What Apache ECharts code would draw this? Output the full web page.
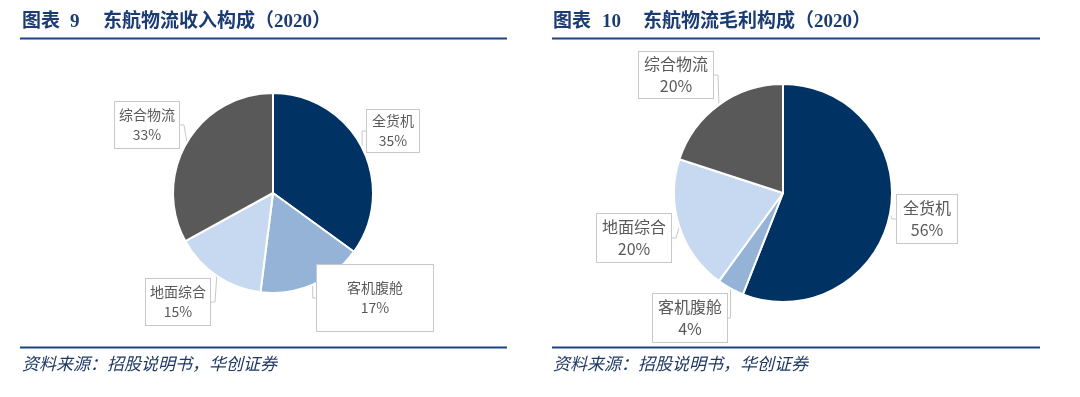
<!DOCTYPE html>
<html><head><meta charset="utf-8">
<script src="https://cdn.jsdelivr.net/npm/echarts@6/dist/echarts.min.js"></script>
<style>html,body{margin:0;padding:0;background:#fff}#c{width:1080px;height:397px}</style>
</head><body><div id="c"></div>
<script>
// ---- data ----
const categories = ['全货机', '客机腹舱', '地面综合', '综合物流'];
const revenueShare = [35, 17, 15, 33];      // 图表9 收入构成 (%)
const grossProfitShare = [56, 4, 20, 20];   // 图表10 毛利构成 (%)
const titles = [['图表', '9', '东航物流收入构成（2020）'], ['图表', '10', '东航物流毛利构成（2020）']];
const sourceText = '资料来源：招股说明书，华创证券';

// ---- styling / layout ----
const colors = ['#003263', '#95B3D7', '#C6D9F1', '#595959'];
const labelLayouts = [
  [[393, 131], [375, 298], [178, 302], [147, 125]],
  [[927, 219], [690, 318], [634, 238], [676, 75]]
];
const labelPads = [
  [[1, 5], [13, 30], [3, 4], [3, 4]],
  [[2, 6], [2, 5], [2, 5], [1, 5]]
];
const fontSizes = [14, 16];

function buildData(vals, si) {
  return categories.map((n, i) => ({
    name: n, value: vals[i],
    itemStyle: { color: colors[i] },
    label: { padding: labelPads[si][i] }
  }));
}

function pieSeries(vals, si, center, radius) {
  return {
    type: 'pie', center: center, radius: radius, startAngle: 90, clockwise: true,
    silent: true, animation: false,
    itemStyle: { borderColor: '#fff', borderWidth: 2 },
    label: {
      show: true, formatter: '{b}\n{c}%', color: '#595959',
      fontSize: fontSizes[si], lineHeight: fontSizes[si] + 6,
      fontFamily: "'Noto Sans CJK SC', 'Liberation Sans', sans-serif",
      backgroundColor: '#fff', borderColor: '#c8c8c8', borderWidth: 1, align: 'center'
    },
    labelLine: { show: true, length: 6, length2: 4, lineStyle: { color: '#c8c8c8', width: 1 } },
    labelLayout: function (p) {
      const pos = labelLayouts[si][p.dataIndex];
      return { x: pos[0], y: pos[1], align: 'center', verticalAlign: 'middle' };
    },
    data: buildData(vals, si)
  };
}

const titleFont = "bold 19px 'Liberation Serif', 'Noto Sans CJK SC', serif";
const graphics = [];
const panels = [
  { x0: 20, x1: 507, tx: 22, tn: 70, tx2: 103 },
  { x0: 552, x1: 1040, tx: 553, tn: 602, tx2: 643 }
];
panels.forEach((p, i) => {
  graphics.push({ type: 'text', left: p.tx, top: 13, style: { text: titles[i][0], font: titleFont, fill: '#1B3C73' } });
  graphics.push({ type: 'text', left: p.tn, top: 13, style: { text: titles[i][1], font: titleFont, fill: '#1B3C73' } });
  graphics.push({ type: 'text', left: p.tx2, top: 13, style: { text: titles[i][2], font: titleFont, fill: '#1B3C73' } });
  graphics.push({ type: 'rect', shape: { x: p.x0, y: 37.5, width: p.x1 - p.x0, height: 2 }, style: { fill: '#1A4582' } });
  graphics.push({ type: 'rect', shape: { x: p.x0, y: 346.5, width: p.x1 - p.x0, height: 2 }, style: { fill: '#1A4582' } });
  graphics.push({ type: 'text', left: p.tx, top: 355, style: { text: sourceText, font: "italic 17px 'Noto Sans CJK SC', sans-serif", fill: '#1F3864' } });
});

const chart = echarts.init(document.getElementById('c'), null, { renderer: 'canvas' });
chart.setOption({
  animation: false,
  graphic: graphics,
  series: [
    pieSeries(revenueShare, 0, [273, 193], 100),
    pieSeries(grossProfitShare, 1, [783, 193], 109)
  ]
});
</script></body></html>
